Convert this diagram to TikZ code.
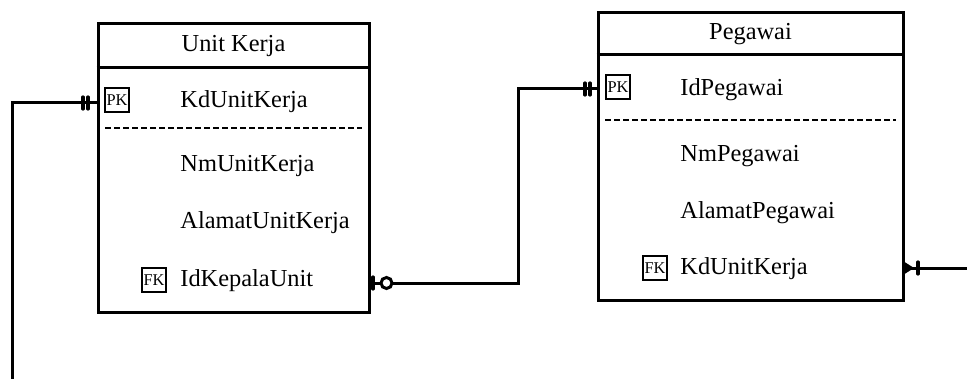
\documentclass[tikz,border=0pt]{standalone}
\usepackage{fontspec}
\setmainfont{Liberation Serif}
\begin{document}
\begin{tikzpicture}[x=0.5pt,y=-0.5pt,
  entity/.style={draw, line width=1.5pt, inner sep=0pt, minimum width=#1},
  hdr/.style={font=\fontsize{12.2}{14}\selectfont, anchor=center},
  attr/.style={font=\fontsize{12.2}{14}\selectfont, anchor=west, inner sep=0pt, text height=1.6ex, text depth=0.35ex},
  keybox/.style={draw, line width=1.4pt, inner sep=0pt, minimum size=12pt, font=\fontsize{8.2}{9}\selectfont},
  conn/.style={line width=1.5pt},
  sep/.style={line width=1.5pt},
  dsep/.style={line width=1pt, dash pattern=on 3pt off 1.5pt},
  tick/.style={line width=1.6pt, line cap=round}]
\useasboundingbox (0,0) rectangle (967,379);
% Unit Kerja entity
\node[entity=135.5pt, minimum height=144pt] (uk) at (233.5,168) {};
\draw[sep] (uk.west |- 0,68) -- (uk.east |- 0,68);
\node[hdr] (ukh) at (233.5,46) {Unit Kerja};
\draw[dsep] (105,128) -- (362,128);
\node[keybox] (ukpk) at (117,100) {PK};
\node[attr] (uka1) at (180,102) {KdUnitKerja};
\node[attr] (uka2) at (180,166) {NmUnitKerja};
\node[attr] (uka3) at (180,223) {AlamatUnitKerja};
\node[keybox] (ukfk) at (154,280) {FK};
\node[attr] (uka4) at (180,281) {IdKepalaUnit};
% Pegawai entity
\node[entity=152.5pt, minimum height=143.5pt] (pg) at (750.5,156.5) {};
\draw[sep] (pg.west |- 0,55) -- (pg.east |- 0,55);
\node[hdr] (pgh) at (750.5,34) {Pegawai};
\draw[dsep] (605,120) -- (896,120);
\node[keybox] (pgpk) at (618,87) {PK};
\node[attr] (pga1) at (680,90) {IdPegawai};
\node[attr] (pga2) at (680,156) {NmPegawai};
\node[attr] (pga3) at (680,213) {AlamatPegawai};
\node[keybox] (pgfk) at (655,268) {FK};
\node[attr] (pga4) at (680,269) {KdUnitKerja};
% connector 1: from bottom-left into Unit Kerja PK
\coordinate (c1) at (12,379);
\coordinate (r1) at (0,103);
\draw[conn] (c1) |- (uk.west |- r1);
\draw[tick] (83,97) -- (83,109);
\draw[tick] (88,97) -- (88,109);
% connector 2: IdKepalaUnit -> Pegawai PK
\coordinate (r2) at (0,283);
\coordinate (bend) at (518,283);
\coordinate (r3) at (0,89);
\draw[conn] (uk.east |- r2) -- (380,283);
\draw[conn] (392,283) -- (bend) |- (pg.west |- r3);
\draw[tick] (373,277) -- (373,289);
\draw[line width=1.5pt] (386.5,283) circle[radius=5.5];
\draw[tick] (585,83) -- (585,95);
\draw[tick] (590,83) -- (590,95);
% connector 3: Pegawai KdUnitKerja -> right
\coordinate (c3) at (967,268);
\coordinate (r4) at (0,268);
\draw[conn] (pg.east |- r4) -- (c3);
\fill (903,261) -- (914,268) -- (903,275) -- cycle;
\draw[tick] (918,262) -- (918,274);
\end{tikzpicture}
\end{document}
